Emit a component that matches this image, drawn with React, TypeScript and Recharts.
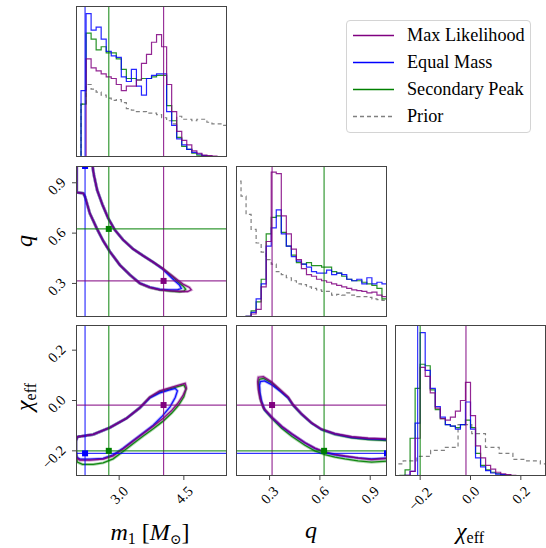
import React from "react";
import { ComposedChart, Line, XAxis, YAxis, ReferenceLine, Scatter } from "recharts";

// ---- layout ----
const PW = 151;
const PH = 151;
const AX = 50;
const COL_X = [76, 236, 395];
const ROW_Y = [6, 166, 325];
const FONT = "'Liberation Serif', 'DejaVu Serif', serif";
const FRAME = "#444";

// order everywhere: max likelihood, equal mass, secondary peak
const COLORS = ["#800080", "#0000ff", "#008000"];
const PRIOR_COLOR = "#808080";
const LEGEND_LABELS = ["Max Likelihood", "Equal Mass", "Secondary Peak", "Prior"];

// ---- axes ----
const M1_DOMAIN = [2.0, 5.5];
const Q_DOMAIN = [0.1, 1.0];
const CHI_DOMAIN = [-0.3, 0.3];
const HIST_DOMAIN = [0, 100];
const M1_TICKS = [3.0, 4.5];
const Q_TICKS = [0.3, 0.6, 0.9];
const CHI_TICKS = [-0.2, 0.0, 0.2];

// ---- reference points (maxL, equal mass, secondary) ----
const M1_REF = [4.03, 2.21, 2.76];
const Q_REF = [0.315, 1.0, 0.625];
const CHI_REF = [-0.018, -0.21, -0.2];

// ---- 1D histograms ----
const M1_BIN_START = 2.0;
const M1_BIN_WIDTH = 0.1167;
const M1_MAXL = [0, 0, 65, 59, 57, 55, 53, 52, 48, 44, 47, 47, 51, 62, 68, 76, 81, 73, 48, 30, 17, 11, 8, 4, 2.5, 1.3, 0.9, 0.6, 0.3, 0];
const M1_EQUAL = [0, 44, 95, 84, 86, 78, 70, 67, 66, 53, 50, 58, 47, 41, 52, 54, 55, 55, 30, 21, 12, 8, 5, 3, 2, 1, 0.5, 0.3, 0, 0];
const M1_SECOND = [0, 35, 82, 78, 71, 73, 69, 69, 65, 58, 52, 52, 51, 52, 52, 53, 54, 54, 34, 24, 13, 7, 5, 2.5, 1.3, 0.9, 0.5, 0.3, 0, 0];
const M1_PRIOR = [0, 35, 48, 45, 43, 41, 39, 37.5, 38, 36, 32, 31, 30, 30, 29, 29, 28, 26, 24, 22, 27, 25, 25, 24, 25, 25, 23, 22, 22, 21];

const Q_BIN_START = 0.1;
const Q_BIN_WIDTH = 0.03;
const Q_MAXL = [0, 0, 0.5, 2, 5, 20, 50, 96, 95, 67, 55, 45, 38, 32, 28, 27, 25, 24, 23, 22, 21, 20, 19, 18, 17.5, 17, 16, 16.5, 14.5, 13.5];
const Q_EQUAL = [0, 0, 0.5, 3, 12, 22, 47, 59, 71, 55, 47, 40, 37, 35, 33, 30, 29, 29, 31, 28, 29, 28, 25, 24, 25, 22, 26, 22, 23, 22];
const Q_SECOND = [0, 0, 0.5, 4, 10, 25, 55, 66, 67, 56, 47, 41, 36, 35, 36, 34, 34, 33, 33, 30, 29, 27, 25, 24, 24, 23, 22, 21, 19, 12];
const Q_PRIOR = [90, 80, 68, 58, 49, 43, 38, 35, 30, 28, 26, 24, 22, 21.5, 20, 19, 18, 17, 17, 14.5, 15, 14.5, 16, 14.5, 13.5, 13.5, 13, 12, 11.5, 11];

const CHI_BIN_START = -0.3;
const CHI_BIN_WIDTH = 0.02;
const CHI_MAXL = [0, 0, 0.5, 3, 25, 72, 66, 55, 45, 38, 37, 39, 43, 50, 62, 40, 20, 12, 7, 4.5, 2.5, 1.5, 1, 0.5, 0, 0, 0, 0, 0, 0];
const CHI_EQUAL = [0, 0, 0.5, 3, 35, 95, 70, 58, 46, 39, 34, 33, 31, 34, 49, 31, 12, 6, 3.5, 2, 1.3, 0.9, 0.5, 0.3, 0, 0, 0, 0, 0, 0];
const CHI_SECOND = [0, 0.5, 4, 25, 58, 74, 73, 57, 44, 38, 34, 33, 32, 34, 37, 32, 15, 7, 4, 2.5, 1.5, 1, 0.6, 0.3, 0, 0, 0, 0, 0, 0];
const CHI_PRIOR_START = -0.322;
const CHI_PRIOR_WIDTH = 0.0545;
const CHI_PRIOR = [8, 10, 13, 17, 19, 34, 28, 19, 15, 11, 10, 8];

// ---- 2D contours [x, y] ----
const M1Q_MAXL = [[2.015, 1.02], [2.015, 0.843], [2.17, 0.837], [2.21, 0.817], [2.32, 0.718], [2.48, 0.629], [2.63, 0.554], [2.785, 0.49], [3.016, 0.41], [3.25, 0.351], [3.48, 0.3], [3.71, 0.276], [3.94, 0.262], [4.21, 0.256], [4.44, 0.252], [4.59, 0.252], [4.67, 0.262], [4.63, 0.276], [4.48, 0.296], [4.25, 0.341], [4.02, 0.387], [3.79, 0.427], [3.55, 0.466], [3.32, 0.506], [3.09, 0.56], [2.9, 0.619], [2.745, 0.689], [2.615, 0.768], [2.49, 0.857], [2.415, 0.946], [2.37, 1.02]];
const M1Q_EQUAL = [[2.015, 1.02], [2.015, 0.843], [2.17, 0.837], [2.21, 0.817], [2.32, 0.718], [2.48, 0.629], [2.63, 0.554], [2.785, 0.49], [3.016, 0.41], [3.25, 0.351], [3.48, 0.302], [3.71, 0.278], [3.94, 0.265], [4.15, 0.262], [4.35, 0.262], [4.44, 0.27], [4.4, 0.29], [4.28, 0.318], [4.15, 0.35], [4.0, 0.388], [3.79, 0.427], [3.55, 0.466], [3.32, 0.506], [3.09, 0.56], [2.9, 0.619], [2.745, 0.689], [2.615, 0.768], [2.49, 0.857], [2.415, 0.946], [2.37, 1.02]];
const M1Q_SECOND = [[2.015, 1.02], [2.015, 0.843], [2.17, 0.837], [2.21, 0.817], [2.32, 0.718], [2.48, 0.629], [2.63, 0.554], [2.785, 0.49], [3.016, 0.41], [3.25, 0.351], [3.48, 0.3], [3.71, 0.276], [3.94, 0.262], [4.21, 0.254], [4.4, 0.25], [4.5, 0.254], [4.54, 0.266], [4.48, 0.285], [4.36, 0.31], [4.22, 0.345], [4.02, 0.387], [3.79, 0.427], [3.55, 0.466], [3.32, 0.506], [3.09, 0.56], [2.9, 0.619], [2.745, 0.689], [2.615, 0.768], [2.49, 0.857], [2.415, 0.946], [2.37, 1.02]];

const M1CHI_MAXL = [[2.03, -0.144], [2.13, -0.142], [2.4, -0.135], [2.785, -0.108], [3.17, -0.071], [3.48, -0.029], [3.71, 0.014], [3.94, 0.038], [4.17, 0.05], [4.4, 0.062], [4.53, 0.068], [4.56, 0.05], [4.48, 0.02], [4.36, -0.011], [4.21, -0.041], [4.02, -0.071], [3.79, -0.102], [3.55, -0.132], [3.32, -0.162], [3.09, -0.193], [2.86, -0.22], [2.63, -0.233], [2.32, -0.237], [2.09, -0.237], [2.015, -0.229], [2.0, -0.198], [2.0, -0.162], [2.03, -0.144]];
const M1CHI_EQUAL = [[2.03, -0.144], [2.13, -0.142], [2.4, -0.135], [2.785, -0.108], [3.17, -0.071], [3.48, -0.029], [3.71, 0.01], [3.94, 0.03], [4.17, 0.042], [4.3, 0.048], [4.35, 0.038], [4.3, 0.012], [4.18, -0.025], [4.0, -0.062], [3.79, -0.098], [3.55, -0.13], [3.32, -0.16], [3.09, -0.19], [2.86, -0.216], [2.63, -0.23], [2.32, -0.233], [2.09, -0.233], [2.02, -0.226], [2.0, -0.198], [2.0, -0.162], [2.03, -0.144]];
const M1CHI_SECOND = [[2.03, -0.144], [2.13, -0.142], [2.4, -0.135], [2.785, -0.108], [3.17, -0.071], [3.48, -0.029], [3.71, 0.012], [3.94, 0.034], [4.17, 0.046], [4.4, 0.057], [4.5, 0.062], [4.55, 0.045], [4.5, 0.015], [4.38, -0.018], [4.22, -0.05], [4.02, -0.082], [3.79, -0.112], [3.55, -0.142], [3.32, -0.172], [3.09, -0.203], [2.86, -0.232], [2.63, -0.248], [2.4, -0.254], [2.15, -0.254], [2.03, -0.245], [2.0, -0.2], [2.0, -0.162], [2.03, -0.144]];

const QCHI_MAXL = [[1.02, -0.153], [0.888, -0.15], [0.789, -0.144], [0.69, -0.132], [0.61, -0.114], [0.551, -0.089], [0.491, -0.053], [0.441, -0.017], [0.411, 0.014], [0.362, 0.044], [0.312, 0.074], [0.263, 0.095], [0.233, 0.0925], [0.229, 0.074], [0.233, 0.044], [0.243, 0.008], [0.263, -0.029], [0.312, -0.065], [0.372, -0.102], [0.432, -0.132], [0.511, -0.168], [0.57, -0.189], [0.63, -0.205], [0.69, -0.214], [0.749, -0.22], [0.828, -0.229], [0.908, -0.235], [1.02, -0.229]];
const QCHI_EQUAL = [[1.02, -0.156], [0.888, -0.152], [0.789, -0.146], [0.69, -0.133], [0.61, -0.115], [0.551, -0.09], [0.491, -0.054], [0.441, -0.018], [0.411, 0.01], [0.362, 0.038], [0.312, 0.063], [0.27, 0.078], [0.245, 0.075], [0.24, 0.06], [0.243, 0.03], [0.253, -0.005], [0.272, -0.038], [0.318, -0.07], [0.375, -0.105], [0.435, -0.134], [0.511, -0.168], [0.57, -0.19], [0.63, -0.206], [0.69, -0.216], [0.749, -0.222], [0.828, -0.228], [0.908, -0.232], [1.02, -0.228]];
const QCHI_SECOND = [[1.02, -0.16], [0.888, -0.155], [0.789, -0.148], [0.69, -0.135], [0.61, -0.116], [0.551, -0.09], [0.491, -0.055], [0.441, -0.02], [0.411, 0.01], [0.362, 0.04], [0.312, 0.07], [0.265, 0.088], [0.238, 0.084], [0.234, 0.066], [0.238, 0.036], [0.248, 0.0], [0.268, -0.036], [0.315, -0.072], [0.372, -0.11], [0.432, -0.142], [0.511, -0.178], [0.57, -0.2], [0.63, -0.215], [0.69, -0.225], [0.749, -0.232], [0.828, -0.24], [0.908, -0.245], [1.02, -0.24]];

type Pt = { x: number; y: number };

const toPts = (arr: number[][]): Pt[] => arr.map(([x, y]) => ({ x, y }));

function histSteps(start: number, width: number, h: number[]): Pt[] {
  const pts: Pt[] = [{ x: start, y: 0 }];
  h.forEach((v, i) => pts.push({ x: start + i * width, y: v }));
  const end = start + h.length * width;
  pts.push({ x: end, y: h[h.length - 1] });
  pts.push({ x: end, y: 0 });
  return pts;
}

const fmt = (v: number) => v.toFixed(1).replace("-", "\u2212");

function XTickLabel(props: any) {
  const { x, y, payload } = props;
  const s = fmt(payload.value);
  const cy = y + 15 + (s.length - 3) * 4;
  return (
    <text x={x} y={cy} textAnchor="middle" dominantBaseline="central"
      transform={`rotate(-45 ${x} ${cy})`} fontFamily={FONT} fontSize={14.5} fill="#000">
      {s}
    </text>
  );
}

function YTickLabel(props: any) {
  const { x, y, payload } = props;
  const s = fmt(payload.value);
  const ax = x - 9;
  const ay = y - 3;
  return (
    <text x={ax} y={ay} textAnchor="end" dominantBaseline="central"
      transform={`rotate(-45 ${ax} ${ay})`} fontFamily={FONT} fontSize={14.5} fill="#000">
      {s}
    </text>
  );
}

const hist = (key: string, pts: Pt[], color: string, dashed = false) => (
  <Line key={key} data={pts} dataKey="y" type="stepAfter" stroke={color} strokeWidth={1.2}
    strokeOpacity={dashed ? 1 : 0.85} strokeDasharray={dashed ? "4 3" : undefined}
    dot={false} activeDot={false} isAnimationActive={false} />
);

// contour drawn as a soft wide stroke with a thin line on top
const contour = (key: string, arr: number[][], color: string) => [
  <Line key={key + "halo"} data={toPts(arr)} dataKey="y" type="linear" stroke={color} strokeWidth={3}
    strokeOpacity={0.3} dot={false} activeDot={false} isAnimationActive={false} />,
  <Line key={key} data={toPts(arr)} dataKey="y" type="linear" stroke={color} strokeWidth={1.3}
    strokeOpacity={0.9} dot={false} activeDot={false} isAnimationActive={false} />,
];

const vlines = (vals: number[]) =>
  vals.map((v, i) => (
    <ReferenceLine key={"v" + i} x={v} stroke={COLORS[i]} strokeWidth={1.2} strokeOpacity={0.8} />
  ));

const hlines = (vals: number[]) =>
  vals.map((v, i) => (
    <ReferenceLine key={"h" + i} y={v} stroke={COLORS[i]} strokeWidth={1.2} strokeOpacity={0.8} />
  ));

const markers = (xs: number[], ys: number[]) =>
  xs.map((x, i) => (
    <Scatter key={"m" + i} data={[{ x, y: ys[i] }]} fill={COLORS[i]} isAnimationActive={false}
      shape={(p: any) => <rect x={p.cx - 3} y={p.cy - 3} width={6} height={6} fill={COLORS[i]} />} />
  ));

type PanelProps = {
  col: number;
  row: number;
  xDomain: number[];
  yDomain: number[];
  xTicks: number[];
  yTicks?: number[];
  xLabels?: boolean;
  yLabels?: boolean;
  children: React.ReactNode;
};

function Panel({ col, row, xDomain, yDomain, xTicks, yTicks, xLabels, yLabels, children }: PanelProps) {
  return (
    <div style={{ position: "absolute", left: COL_X[col] - AX, top: ROW_Y[row], width: PW + AX, height: PH + AX }}>
      <ComposedChart width={PW + AX} height={PH + AX} margin={{ top: 0, right: 0, bottom: 0, left: 0 }}>
        <XAxis type="number" dataKey="x" domain={xDomain} allowDataOverflow ticks={xTicks} interval={0}
          height={AX} axisLine={false} tickLine={{ stroke: FRAME }} tickSize={4} tickMargin={0}
          tick={xLabels ? <XTickLabel /> : false} />
        <YAxis type="number" dataKey="y" domain={yDomain} allowDataOverflow ticks={yTicks} interval={0}
          width={AX} axisLine={false} tickLine={yTicks ? { stroke: FRAME } : false} tickSize={4} tickMargin={0}
          tick={yLabels ? <YTickLabel /> : false} />
        {children}
      </ComposedChart>
      <div style={{ position: "absolute", left: AX, top: 0, width: PW, height: PH, border: `1px solid ${FRAME}`,
        boxSizing: "border-box", pointerEvents: "none" }} />
    </div>
  );
}

function Legend() {
  return (
    <div style={{ position: "absolute", left: 346, top: 20, width: 185, height: 113, border: "1px solid #d4d4d4",
      borderRadius: 4, boxSizing: "border-box", background: "#fff" }}>
      {LEGEND_LABELS.map((lab, i) => (
        <div key={lab} style={{ position: "absolute", left: 0, top: 1 + i * 27, height: 27, display: "flex", alignItems: "center" }}>
          <svg width={60} height={27}>
            <line x1={6} x2={47} y1={13.5} y2={13.5} stroke={i < 3 ? COLORS[i] : PRIOR_COLOR} strokeWidth={1.4}
              strokeDasharray={i === 3 ? "4 3" : undefined} />
          </svg>
          <span style={{ fontFamily: FONT, fontSize: 18.2, lineHeight: "27px", whiteSpace: "nowrap" }}>{lab}</span>
        </div>
      ))}
    </div>
  );
}

export default function App() {
  return (
    <div style={{ position: "absolute", left: 0, top: 0, width: 546, height: 548, background: "#fff", fontFamily: FONT }}>
      {/* m1 histogram */}
      <Panel col={0} row={0} xDomain={M1_DOMAIN} yDomain={HIST_DOMAIN} xTicks={M1_TICKS}>
        {hist("p", histSteps(M1_BIN_START, M1_BIN_WIDTH, M1_PRIOR), PRIOR_COLOR, true)}
        {hist("g", histSteps(M1_BIN_START, M1_BIN_WIDTH, M1_SECOND), COLORS[2])}
        {hist("b", histSteps(M1_BIN_START, M1_BIN_WIDTH, M1_EQUAL), COLORS[1])}
        {hist("m", histSteps(M1_BIN_START, M1_BIN_WIDTH, M1_MAXL), COLORS[0])}
        {vlines(M1_REF)}
      </Panel>

      {/* m1 vs q */}
      <Panel col={0} row={1} xDomain={M1_DOMAIN} yDomain={Q_DOMAIN} xTicks={M1_TICKS} yTicks={Q_TICKS} yLabels>
        {contour("g", M1Q_SECOND, COLORS[2])}
        {contour("b", M1Q_EQUAL, COLORS[1])}
        {contour("m", M1Q_MAXL, COLORS[0])}
        {vlines(M1_REF)}
        {hlines(Q_REF)}
        {markers(M1_REF, Q_REF)}
      </Panel>

      {/* q histogram */}
      <Panel col={1} row={1} xDomain={Q_DOMAIN} yDomain={HIST_DOMAIN} xTicks={Q_TICKS}>
        {hist("p", histSteps(Q_BIN_START, Q_BIN_WIDTH, Q_PRIOR), PRIOR_COLOR, true)}
        {hist("g", histSteps(Q_BIN_START, Q_BIN_WIDTH, Q_SECOND), COLORS[2])}
        {hist("b", histSteps(Q_BIN_START, Q_BIN_WIDTH, Q_EQUAL), COLORS[1])}
        {hist("m", histSteps(Q_BIN_START, Q_BIN_WIDTH, Q_MAXL), COLORS[0])}
        {vlines(Q_REF)}
      </Panel>

      {/* m1 vs chi_eff */}
      <Panel col={0} row={2} xDomain={M1_DOMAIN} yDomain={CHI_DOMAIN} xTicks={M1_TICKS} yTicks={CHI_TICKS} xLabels yLabels>
        {contour("g", M1CHI_SECOND, COLORS[2])}
        {contour("b", M1CHI_EQUAL, COLORS[1])}
        {contour("m", M1CHI_MAXL, COLORS[0])}
        {vlines(M1_REF)}
        {hlines(CHI_REF)}
        {markers(M1_REF, CHI_REF)}
      </Panel>

      {/* q vs chi_eff */}
      <Panel col={1} row={2} xDomain={Q_DOMAIN} yDomain={CHI_DOMAIN} xTicks={Q_TICKS} yTicks={CHI_TICKS} xLabels>
        {contour("g", QCHI_SECOND, COLORS[2])}
        {contour("b", QCHI_EQUAL, COLORS[1])}
        {contour("m", QCHI_MAXL, COLORS[0])}
        {vlines(Q_REF)}
        {hlines(CHI_REF)}
        {markers(Q_REF, CHI_REF)}
      </Panel>

      {/* chi_eff histogram */}
      <Panel col={2} row={2} xDomain={CHI_DOMAIN} yDomain={HIST_DOMAIN} xTicks={CHI_TICKS} xLabels>
        {hist("p", histSteps(CHI_PRIOR_START, CHI_PRIOR_WIDTH, CHI_PRIOR), PRIOR_COLOR, true)}
        {hist("g", histSteps(CHI_BIN_START, CHI_BIN_WIDTH, CHI_SECOND), COLORS[2])}
        {hist("b", histSteps(CHI_BIN_START, CHI_BIN_WIDTH, CHI_EQUAL), COLORS[1])}
        {hist("m", histSteps(CHI_BIN_START, CHI_BIN_WIDTH, CHI_MAXL), COLORS[0])}
        {vlines(CHI_REF)}
      </Panel>

      <Legend />

      <svg width={546} height={548} style={{ position: "absolute", left: 0, top: 0, pointerEvents: "none" }}
        fontFamily={FONT} fill="#000">
        <text x={150} y={540} textAnchor="middle" fontSize={24} style={{ whiteSpace: "pre" }}>
          <tspan fontStyle="italic">m</tspan>
          <tspan fontSize={16} dy={4}>1</tspan>
          <tspan dy={-4}> [</tspan>
          <tspan fontStyle="italic">M</tspan>
          <tspan fontSize={14} dy={4}>⊙</tspan>
          <tspan dy={-4}>]</tspan>
        </text>
        <text x={311} y={538} textAnchor="middle" fontSize={24} fontStyle="italic">q</text>
        <text x={470} y={539} textAnchor="middle" fontSize={24}>
          <tspan fontStyle="italic">χ</tspan>
          <tspan fontSize={16} dy={4}>eff</tspan>
        </text>
        <text transform="translate(32 241) rotate(-90)" textAnchor="middle" fontSize={24} fontStyle="italic">q</text>
        <text transform="translate(32 397) rotate(-90)" textAnchor="middle" fontSize={24}>
          <tspan fontStyle="italic">χ</tspan>
          <tspan fontSize={16} dy={4}>eff</tspan>
        </text>
      </svg>
    </div>
  );
}
